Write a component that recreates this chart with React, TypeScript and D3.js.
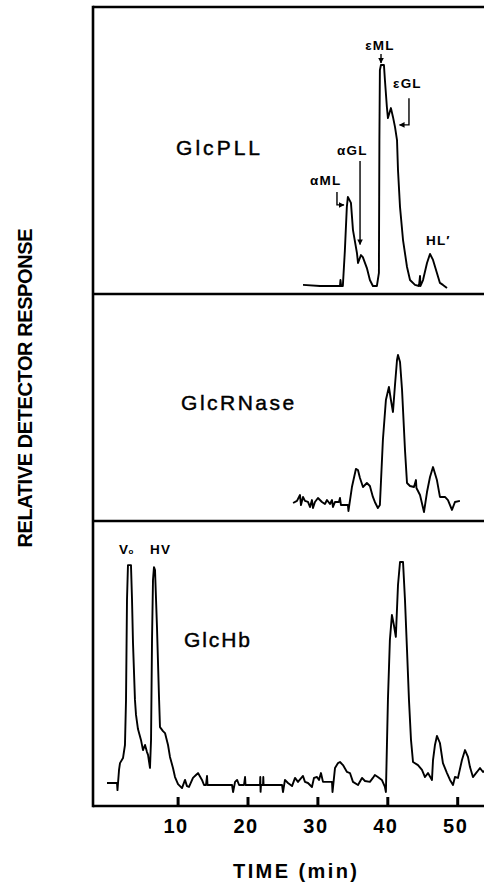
import React, { useEffect, useRef } from 'react'
import * as d3 from 'd3'

// ---- data (time in min, response relative to the tallest peak of each panel) ----
const panelNames = ['GlcPLL', 'GlcRNase', 'GlcHb']
const timeTicks = [10, 20, 30, 40, 50]
const xTitle = 'TIME (min)'
const yTitle = 'RELATIVE DETECTOR RESPONSE'

const glcPllTime = [27.94, 30.37, 33.23, 33.3, 33.4, 33.64, 33.93, 34.21, 34.36, 34.8, 35.09, 35.66, 35.81, 36.23, 36.5, 37.08, 37.51, 37.94, 38.51, 38.8, 38.87, 38.94, 39.09, 39.52, 39.66, 39.94, 40.09, 40.52, 40.81, 41.1, 41.39, 41.53, 41.82, 42.25, 42.82, 43.25, 43.96, 44.53, 44.68, 44.75, 45.11, 45.68, 46.11, 46.54, 47.1, 47.53, 47.96, 48.54]
const glcPllResponse = [0.5, 0, 0, 2.7, 0, 0, 16, 35.7, 40.3, 37.6, 25.3, 14.9, 10.4, 14, 13.1, 8.1, 2.7, 0, 0, 5.9, 66, 97.7, 100, 100, 93.2, 81, 76, 80.5, 76.5, 72, 66, 52.5, 35.7, 20.8, 8.6, 2.7, 0.5, 0, 4.5, 0, 2.7, 10.4, 14.5, 11.8, 5.9, 1.4, 0.5, -0.9]

const glcRNaseTime = [26.52, 27.08, 27.51, 27.65, 27.94, 28.22, 28.65, 28.94, 29.22, 29.37, 29.65, 30.08, 30.65, 31.08, 31.37, 31.8, 32.09, 32.23, 32.52, 33.08, 33.23, 33.37, 33.94, 34.37, 34.44, 34.94, 35.51, 35.8, 36.09, 36.52, 37.08, 37.51, 37.94, 38.22, 38.65, 38.94, 39.37, 39.8, 40.23, 40.52, 40.81, 41.1, 41.39, 41.53, 41.82, 42.11, 42.53, 42.82, 43.25, 43.82, 44.1, 44.17, 44.68, 45.25, 45.68, 46.11, 46.54, 47.1, 47.53, 48.25, 48.68, 49.25, 49.68, 50.39]
const glcRNaseResponse = [0, 1.4, 5.4, -1.4, 4.1, 1.4, 0.7, -2.7, 2, -3.4, 0.7, 3.4, 0.7, -0.7, 2, -0.7, 2, -2.7, 0.7, 0.7, 3.4, -1.4, -1.4, -1.4, -5.4, 10.8, 23, 22.3, 16.9, 10.8, 13.5, 11.5, 4.1, 0.7, -3.4, -1.4, 42.6, 69.6, 78.4, 69.6, 61.5, 79.7, 96.6, 100, 95.3, 76.4, 35.8, 13.5, 11.5, 10.8, 15.5, 10.1, 5.4, -6.1, 7.4, 17.6, 24.3, 15.5, 4.1, 4.1, 2, -4.7, 0.7, 1.4]

const glcHbTime = [-0.1, 1.33, 1.4, 1.62, 1.76, 2.19, 2.47, 2.62, 2.76, 2.9, 3.33, 3.48, 3.62, 3.9, 4.05, 4.33, 4.76, 5.05, 5.34, 5.62, 5.77, 6.05, 6.2, 6.34, 6.48, 6.62, 6.77, 7.05, 7.34, 7.48, 7.91, 8.2, 8.63, 8.91, 9.34, 9.63, 10.06, 10.63, 11.06, 11.34, 11.63, 12.2, 12.63, 12.92, 13.49, 13.78, 14.06, 14.21, 14.28, 17.79, 17.94, 18.22, 18.51, 18.8, 19.5, 19.65, 19.72, 21.79, 21.83, 21.87, 21.93, 22.22, 22.26, 22.3, 24.94, 25.08, 25.36, 25.79, 26.37, 26.8, 27.22, 27.94, 28.22, 28.65, 29.22, 29.51, 29.94, 30.23, 30.51, 30.8, 32.09, 32.16, 32.52, 32.95, 33.23, 33.66, 34.23, 34.66, 35.09, 35.81, 36.38, 36.81, 37.51, 37.94, 38.22, 38.65, 39.22, 39.66, 39.8, 40.09, 40.37, 40.66, 40.94, 41.22, 41.53, 41.82, 42.25, 42.53, 42.82, 43.1, 43.39, 43.68, 44.39, 44.96, 45.39, 45.82, 46.39, 46.54, 46.82, 47.1, 47.53, 47.96, 48.54, 48.97, 49.4, 49.68, 50.11, 50.68, 51.12, 51.54, 51.83, 52.25, 52.83, 53.26, 53.69, 54.1]
const glcHbResponse = [0, 0, -3.2, 5.9, 9, 11.3, 17.2, 37.6, 82.8, 98.6, 98.6, 82.8, 63.3, 37.6, 30.8, 24.4, 19.5, 14.9, 17.2, 14, 12.7, 6.8, 19.5, 64.7, 91.9, 97.7, 96.4, 70.6, 38.9, 25.3, 23.5, 22.6, 17.2, 11.8, 6.8, 2.7, -0.5, -2.3, 1.4, -1.4, -1.8, 2.3, 3.6, 4.5, 1.4, -0.9, -0.9, 3.2, -0.9, -0.9, -4.1, 0.5, 1.4, -0.9, -0.9, 2.7, -0.9, -0.9, 2.7, -4, -0.9, -0.9, 2.7, -0.9, -0.9, -4.1, 1.4, 0, -1.4, 2.3, 0.5, 3.2, 0.5, 0, -1.8, 2.3, 2.7, 1.4, 4.5, 0.5, 0.5, -4.1, 6.8, 9, 9.5, 8.1, 5, 4.5, 0.5, -0.9, 2.3, 0.9, 0.5, 2.3, 3.6, 2.7, 1.4, -1.8, -4.1, 37.6, 64.7, 76, 71.5, 66.1, 89.6, 100, 100, 82.8, 60.2, 37.6, 19.5, 9.5, 8.1, 5.9, 2.7, 4.5, 1.4, 10.4, 17.2, 21.3, 18.1, 9, 4.5, 1.4, -0.9, 2.7, 2.3, 10.4, 14.9, 11.8, 7.2, 2.7, 5, 6.8, 5, 5.9]

const glcPllPeakLabels = ['\u03b5ML', '\u03b5GL', '\u03b1GL', '\u03b1ML', 'HL\u2032']
const glcHbPeakLabels = ['V', 'HV']

// ---- layout ----
const W = 484
const H = 883
const frameLeft = 93
const panels = [
  { top: 7, bottom: 294, base: 286, full: 65 },
  { top: 294, bottom: 521, base: 503, full: 355 },
  { top: 521, bottom: 806, base: 783, full: 562 },
]
const axisY = 806
const font = '"Liberation Sans", Arial, Helvetica, sans-serif'

export default function App() {
  const ref = useRef<SVGSVGElement>(null)

  useEffect(() => {
    const svg = d3.select(ref.current)
    svg.selectAll('*').remove()

    const x = d3.scaleLinear().domain([0, 50]).range([107.7, 457.2])
    const ys = panels.map(p => d3.scaleLinear().domain([0, 100]).range([p.base, p.full]))

    const defs = svg.append('defs')
    defs.append('marker')
      .attr('id', 'ah')
      .attr('viewBox', '0 0 10 10')
      .attr('refX', 9).attr('refY', 5)
      .attr('markerWidth', 4).attr('markerHeight', 4)
      .attr('orient', 'auto')
      .append('path').attr('d', 'M0,0L10,5L0,10Z').attr('fill', '#000')

    panels.forEach((p, i) => {
      defs.append('clipPath').attr('id', 'clip' + i)
        .append('rect')
        .attr('x', frameLeft).attr('y', p.top)
        .attr('width', W - frameLeft).attr('height', p.bottom - p.top)
    })

    // frame
    const frame = svg.append('g').attr('stroke', '#000').attr('stroke-width', 2.6)
    frame.append('line').attr('x1', frameLeft).attr('x2', frameLeft).attr('y1', panels[0].top - 1.3).attr('y2', axisY + 1.3)
    ;[panels[0].top, panels[1].top, panels[2].top, axisY].forEach(yy => {
      frame.append('line').attr('x1', frameLeft).attr('x2', W).attr('y1', yy).attr('y2', yy)
    })

    // traces
    const series = [
      [glcPllTime, glcPllResponse],
      [glcRNaseTime, glcRNaseResponse],
      [glcHbTime, glcHbResponse],
    ]
    series.forEach(([ts, vs], i) => {
      const pts = ts.map((t, k) => [t, vs[k]] as [number, number])
      const ln = d3.line<[number, number]>().x(d => x(d[0])).y(d => ys[i](d[1]))
      svg.append('path')
        .datum(pts)
        .attr('clip-path', 'url(#clip' + i + ')')
        .attr('fill', 'none')
        .attr('stroke', '#000')
        .attr('stroke-width', 1.9)
        .attr('stroke-linejoin', 'round')
        .attr('d', ln)
    })

    // x axis, ticks pointing up into the plot
    const axis = svg.append('g')
      .attr('transform', `translate(0,${axisY})`)
      .call(d3.axisBottom(x).tickValues(timeTicks).tickSizeInner(-9).tickSizeOuter(0).tickPadding(13))
    axis.select('.domain').remove()
    axis.selectAll('.tick line').attr('stroke', '#000').attr('stroke-width', 3)
    axis.selectAll('.tick text')
      .attr('fill', '#000')
      .attr('font-family', font)
      .attr('font-weight', 'bold')
      .attr('font-size', 20)
      .attr('letter-spacing', 1.5)
      .attr('dx', -2)

    svg.append('text')
      .attr('x', 295).attr('y', 878)
      .attr('text-anchor', 'middle')
      .attr('font-family', font).attr('font-weight', 'bold').attr('font-size', 20)
      .attr('textLength', 124).attr('lengthAdjust', 'spacing')
      .text(xTitle)

    svg.append('text')
      .attr('transform', 'translate(32,388) rotate(-90)')
      .attr('text-anchor', 'middle')
      .attr('font-family', font).attr('font-weight', 'bold').attr('font-size', 20)
      .attr('textLength', 319).attr('lengthAdjust', 'spacing')
      .text(yTitle)

    // panel names, anchored in data units
    const nameAt = [[9.78, 59.3, 84], [10.5, 62.8, 113], [10.9, 61.5, 66]]
    panelNames.forEach((name, i) => {
      svg.append('text')
        .attr('x', x(nameAt[i][0])).attr('y', ys[i](nameAt[i][1]))
        .attr('font-family', font).attr('font-size', 21)
        .attr('stroke', '#000').attr('stroke-width', 0.45)
        .attr('textLength', nameAt[i][2]).attr('lengthAdjust', 'spacing')
        .text(name)
    })

    // peak annotations
    const lab = (i: number, t: number, v: number, s: string, anchor = 'start') =>
      svg.append('text')
        .attr('x', x(t)).attr('y', ys[i](v))
        .attr('text-anchor', anchor)
        .attr('font-family', font).attr('font-weight', 'bold').attr('font-size', 13.5)
        .attr('letter-spacing', 1.2)
        .text(s)
    const lead = (i: number, pts: [number, number][]) =>
      svg.append('path')
        .attr('d', d3.line<[number, number]>().x(d => x(d[0])).y(d => ys[i](d[1]))(pts))
        .attr('fill', 'none').attr('stroke', '#000').attr('stroke-width', 1.4)
        .attr('marker-end', 'url(#ah)')

    lab(0, 38.96, 106.8, glcPllPeakLabels[0], 'middle')
    lead(0, [[39.1, 105], [39.1, 100.9]])
    lab(0, 40.82, 89.6, glcPllPeakLabels[1])
    lead(0, [[43.1, 85], [43.1, 72.9], [41.75, 72.9]])
    lab(0, 32.8, 59.3, glcPllPeakLabels[2])
    lead(0, [[36.1, 56.6], [36.1, 18.8]])
    lab(0, 28.94, 45.7, glcPllPeakLabels[3])
    lead(0, [[32.8, 42.5], [32.8, 36.7], [33.8, 36.7]])
    lab(0, 45.53, 18.6, glcPllPeakLabels[4])

    const v0 = lab(2, 1.62, 103.6, glcHbPeakLabels[0]).attr('letter-spacing', 0)
    v0.append('tspan').attr('font-size', 8).attr('dx', 0.5).text('o')
    lab(2, 6.05, 103.6, glcHbPeakLabels[1])
  }, [])

  return (
    <svg
      ref={ref}
      width={W}
      height={H}
      style={{ position: 'absolute', left: 0, top: 0, background: '#fff' }}
    />
  )
}
